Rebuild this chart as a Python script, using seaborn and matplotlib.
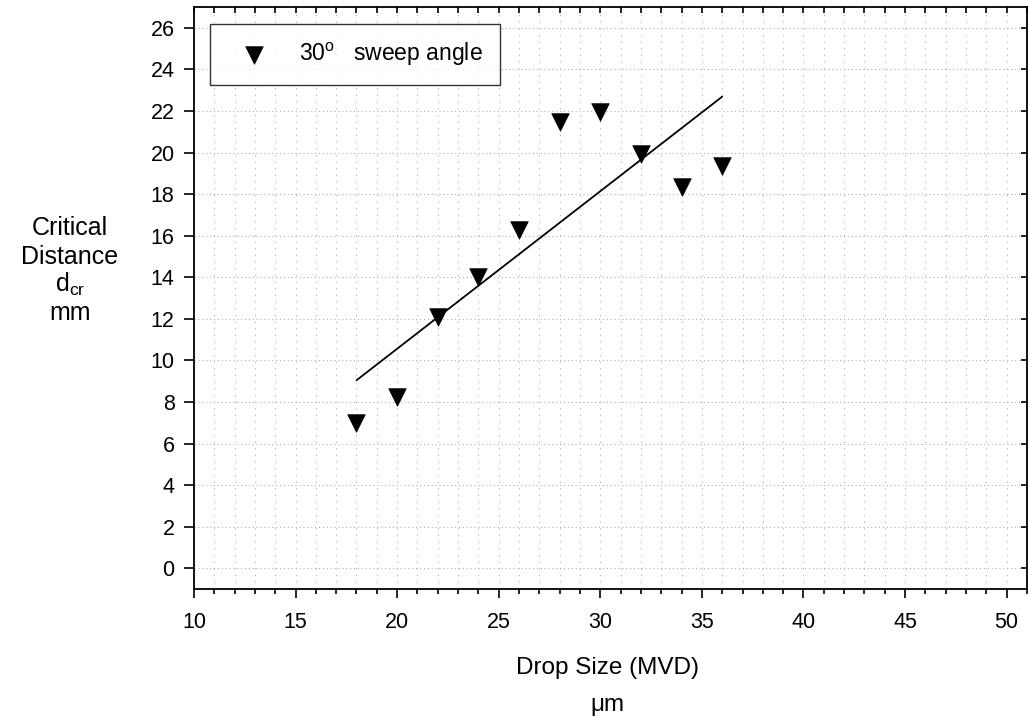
"""
Critical distance vs drop size (MVD) at 30 deg sweep angle,
with a least-squares line through the measurements.
"""

import numpy as np
import pandas as pd
import matplotlib
matplotlib.use("Agg")
import matplotlib.pyplot as plt
from matplotlib.ticker import MultipleLocator
import seaborn as sns

drop_size_um = [18, 20, 22, 24, 26, 28, 30, 32, 34, 36]
critical_distance_mm = [7.0, 8.25, 12.1, 14.0, 16.25, 21.45, 21.95, 19.95, 18.35, 19.35]
series_label = r"30$^{\mathregular{o}}$   sweep angle"

x_ticks = [10, 15, 20, 25, 30, 35, 40, 45, 50]
y_ticks = list(range(0, 27, 2))

df = pd.DataFrame({"drop": drop_size_um, "dcr": critical_distance_mm})

sns.set_style("white")
plt.rcParams["font.family"] = ["Liberation Sans", "DejaVu Sans"]
plt.rcParams["mathtext.fontset"] = "custom"
plt.rcParams["mathtext.rm"] = "Liberation Sans"
plt.rcParams["text.color"] = "black"
plt.rcParams["xtick.color"] = "black"
plt.rcParams["ytick.color"] = "black"

fig = plt.figure(figsize=(10.29, 7.23), dpi=100)
ax = fig.add_axes([0.1885, 0.1853, 0.8095, 0.805])

# dotted grid: every 1 unit in x, every 2 units in y
for xv in range(11, 51):
    ax.axvline(xv, color="#b0b0b0", lw=0.8, ls=(0, (1, 5)), zorder=0)
for yv in y_ticks:
    ax.axhline(yv, color="#b0b0b0", lw=0.8, ls=(0, (1, 2.5)), zorder=0)

sns.regplot(data=df, x="drop", y="dcr", scatter=False, ci=None, truncate=True,
            line_kws={"color": "black", "lw": 1.3}, ax=ax)
sns.scatterplot(data=df, x="drop", y="dcr", marker="v", s=160, color="black",
                edgecolor="black", linewidth=0.5, label=series_label, ax=ax, zorder=3)

ax.set_xlim(10, 51)
ax.set_ylim(-1, 27)
ax.set_xticks(x_ticks)
ax.set_yticks(y_ticks)
ax.xaxis.set_minor_locator(MultipleLocator(1))
ax.set_xlabel("")
ax.set_ylabel("")

for sp in ax.spines.values():
    sp.set_visible(True)
    sp.set_color("black")
    sp.set_linewidth(1.3)

ax.tick_params(axis="x", which="major", direction="out", length=6.5, width=1.2,
               labelsize=15.5, labelcolor="black", pad=10, bottom=True, top=False)
ax.tick_params(axis="x", which="minor", direction="out", length=3.8, width=1.2, bottom=True, top=False)
ax.tick_params(axis="y", which="major", direction="out", length=7, width=1.2,
               labelsize=15.5, labelcolor="black", pad=7, left=True)

# inward ticks on the top and right edges, no labels
top = ax.secondary_xaxis("top")
top.set_xticks(range(10, 52))
top.tick_params(direction="in", length=4, width=1.2, labeltop=False)
top.spines["top"].set_visible(False)
right = ax.secondary_yaxis("right")
right.set_yticks(y_ticks)
right.tick_params(direction="in", length=4, width=1.2, labelright=False)
right.spines["right"].set_visible(False)

leg = ax.legend(loc="upper left", bbox_to_anchor=(0.019, 0.971), fontsize=16.5,
                frameon=True, fancybox=False, borderpad=0.75, handletextpad=0.75,
                borderaxespad=0, handlelength=2.4, markerscale=1.0)
leg.get_frame().set_edgecolor("black")
leg.get_frame().set_linewidth(1.0)

fig.text(0.59, 0.076, "Drop Size (MVD)", ha="center", va="center", fontsize=17.5)
fig.text(0.59, 0.025, "\u03bcm", ha="center", va="center", fontsize=17.5)

for yy, txt in [(0.684, "Critical"), (0.645, "Distance"),
                (0.606, r"d$_{\mathregular{cr}}$"), (0.567, "mm")]:
    fig.text(0.068, yy, txt, ha="center", va="center", fontsize=18)

fig.savefig("out.png", dpi=100)
